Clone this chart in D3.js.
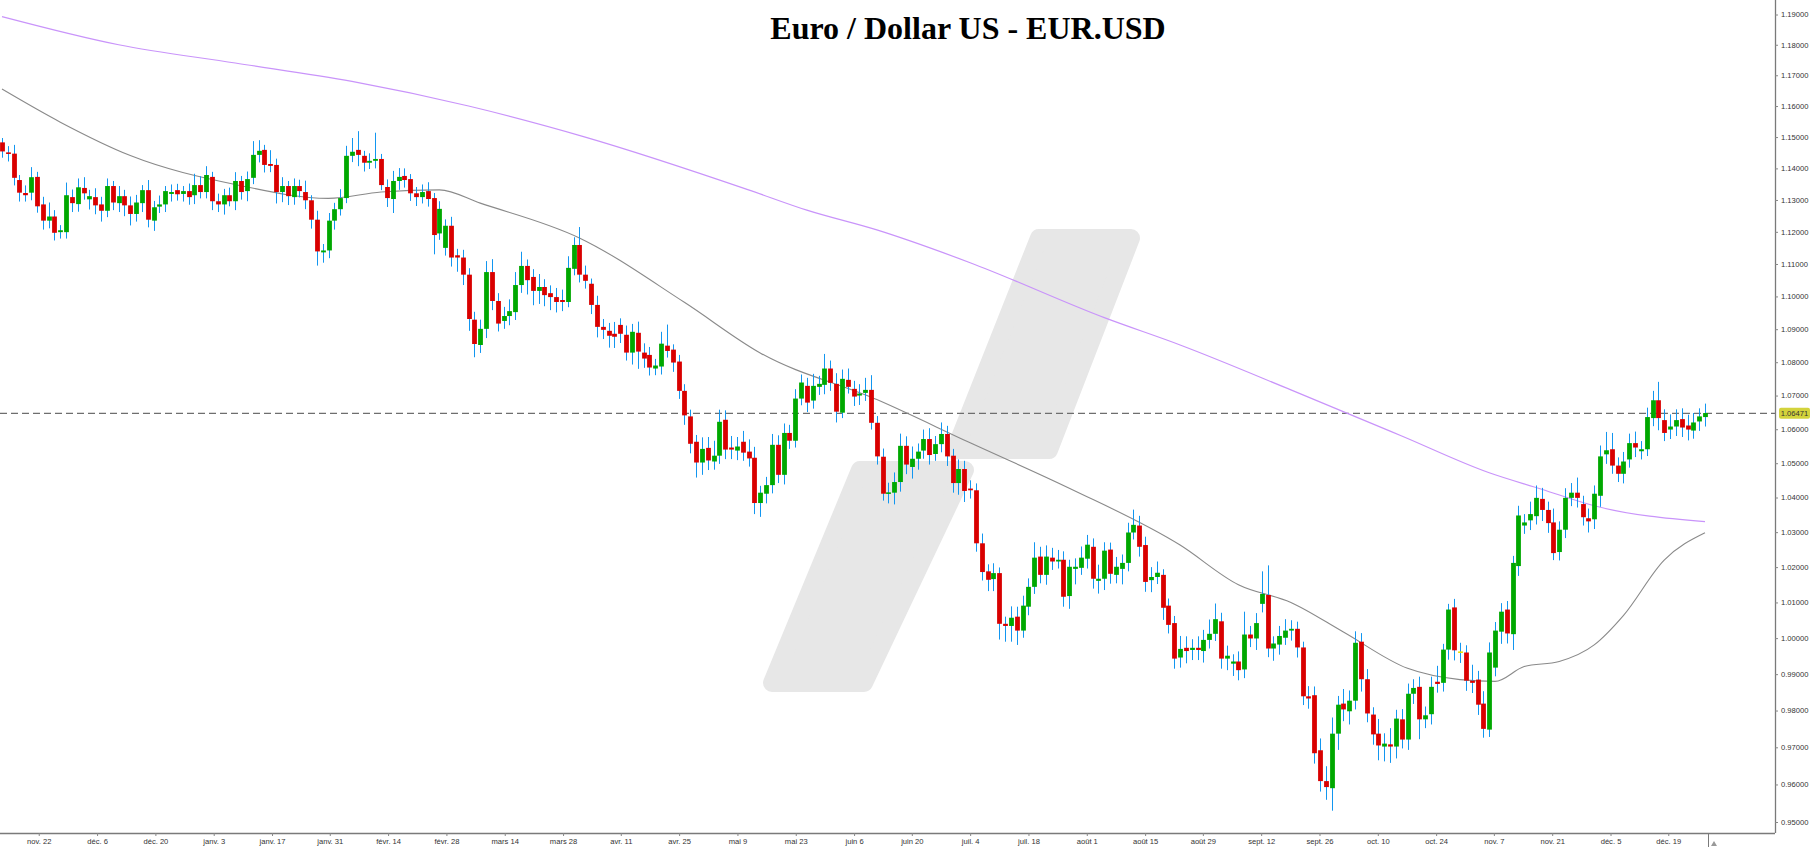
<!DOCTYPE html>
<html>
<head>
<meta charset="utf-8">
<script src="https://cdn.jsdelivr.net/npm/d3@7/dist/d3.min.js"></script>
<style>
  body { margin: 0; background: #fff; }
  svg { display: block; }
</style>
</head>
<body>
<svg id="chart" width="1811" height="847"></svg>
<script>
// daily candles, EUR/USD
var opens = [
1.1483,1.1451,1.1447,1.1363,1.1322,1.1323,1.1373,1.1286,1.1235,1.1248,
1.1199,1.1199,1.1309,1.1287,1.1338,1.1302,1.1309,1.1286,1.1266,1.1344,
1.1290,1.1312,1.1283,1.1256,1.1290,1.1331,1.1235,1.1279,1.1286,1.1319,
1.1331,1.1319,1.1328,1.1315,1.1347,1.1325,1.1373,1.1296,1.1286,1.1315,
1.1296,1.1360,1.1328,1.1370,1.1443,1.1459,1.1414,1.1411,1.1325,1.1344,
1.1309,1.1344,1.1325,1.1299,1.1238,1.1136,1.1142,1.1235,1.1271,1.1306,
1.1440,1.1459,1.1440,1.1418,1.1424,1.1430,1.1341,1.1303,1.1360,1.1376,
1.1366,1.1321,1.1309,1.1328,1.1306,1.1195,1.1150,1.1219,1.1127,1.1120,
1.1067,1.0929,1.0852,1.0901,1.1075,1.0986,1.0925,1.0940,1.0952,1.1035,
1.1094,1.1060,1.1017,1.1029,1.1010,1.0998,1.0989,1.0983,1.1085,1.1159,
1.1067,1.1039,1.0974,1.0907,1.0895,1.0886,1.0913,1.0883,1.0829,1.0889,
1.0829,1.0822,1.0781,1.0787,1.0850,1.0838,1.0802,1.0714,1.0638,1.0563,
1.0502,1.0545,1.0505,1.0522,1.0628,1.0546,1.0537,1.0563,1.0534,1.0516,
1.0384,1.0411,1.0436,1.0554,1.0466,1.0589,1.0566,1.0691,1.0729,1.0685,
1.0726,1.0732,1.0781,1.0735,1.0649,1.0747,1.0720,1.0700,1.0708,1.0717,
1.0619,1.0519,1.0411,1.0414,1.0445,1.0551,1.0489,1.0513,1.0537,1.0571,
1.0527,1.0556,1.0586,1.0522,1.0442,1.0483,1.0426,1.0421,1.0268,1.0188,
1.0166,1.0183,1.0040,1.0034,1.0060,1.0021,1.0088,1.0144,1.0230,1.0178,
1.0227,1.0216,1.0221,1.0118,1.0195,1.0198,1.0224,1.0258,1.0161,1.0167,
1.0250,1.0178,1.0195,1.0212,1.0299,1.0319,1.0263,1.0163,1.0172,1.0178,
1.0091,1.0042,0.9946,0.9973,0.9967,0.9973,0.9964,0.9995,1.0012,1.0047,
0.9943,0.9929,0.9935,0.9913,1.0010,0.9999,1.0096,1.0121,0.9971,0.9982,
1.0001,1.0021,1.0026,0.9974,0.9839,0.9842,0.9692,0.9609,0.9590,0.9737,
0.9819,0.9798,0.9827,0.9990,0.9886,0.9789,0.9737,0.9702,0.9708,0.9702,
0.9776,0.9721,0.9846,0.9865,0.9776,0.9790,0.9879,0.9876,0.9968,1.0086,
0.9963,0.9960,0.9882,0.9885,0.9819,0.9748,0.9918,1.0018,1.0080,1.0011,
1.0203,1.0319,1.0334,1.0346,1.0396,1.0364,1.0328,1.0243,1.0307,1.0399,
1.0414,1.0381,1.0340,1.0337,1.0405,1.0526,1.0541,1.0493,1.0469,1.0511,
1.0559,1.0535,1.0541,1.0633,1.0686,1.0627,1.0599,1.0608,1.0630,1.0611,
1.0596,1.0623,1.0636];
var closes = [
1.1454,1.1446,1.1370,1.1323,1.1315,1.1372,1.1280,1.1235,1.1248,1.1197,
1.1205,1.1315,1.1290,1.1340,1.1321,1.1312,1.1283,1.1266,1.1344,1.1292,
1.1312,1.1283,1.1256,1.1292,1.1331,1.1238,1.1277,1.1286,1.1328,1.1325,
1.1318,1.1328,1.1309,1.1347,1.1325,1.1379,1.1296,1.1286,1.1315,1.1296,
1.1360,1.1325,1.1366,1.1443,1.1456,1.1411,1.1408,1.1325,1.1344,1.1312,
1.1344,1.1328,1.1299,1.1238,1.1139,1.1142,1.1235,1.1271,1.1306,1.1440,
1.1453,1.1443,1.1418,1.1424,1.1430,1.1347,1.1306,1.1360,1.1373,1.1363,
1.1321,1.1309,1.1325,1.1303,1.1190,1.1272,1.1219,1.1120,1.1120,1.1067,
1.0931,1.0855,1.0901,1.1075,1.0986,1.0917,1.0940,1.0955,1.1035,1.1094,
1.1050,1.1017,1.1029,1.1004,1.0998,1.0983,1.0983,1.1088,1.1159,1.1067,
1.1048,1.0974,1.0907,1.0898,1.0880,1.0877,1.0886,1.0829,1.0892,1.0832,
1.0811,1.0784,1.0790,1.0856,1.0834,1.0799,1.0714,1.0641,1.0557,1.0502,
1.0542,1.0508,1.0522,1.0622,1.0540,1.0540,1.0549,1.0531,1.0514,1.0384,
1.0414,1.0436,1.0554,1.0466,1.0589,1.0566,1.0691,1.0739,1.0679,1.0729,
1.0735,1.0781,1.0738,1.0652,1.0750,1.0726,1.0697,1.0706,1.0717,1.0619,
1.0520,1.0411,1.0415,1.0445,1.0551,1.0496,1.0513,1.0534,1.0571,1.0524,
1.0556,1.0586,1.0520,1.0442,1.0483,1.0419,1.0421,1.0268,1.0186,1.0164,
1.0183,1.0040,1.0034,1.0057,1.0021,1.0091,1.0144,1.0227,1.0178,1.0230,
1.0216,1.0221,1.0116,1.0201,1.0201,1.0227,1.0264,1.0167,1.0167,1.0247,
1.0181,1.0201,1.0212,1.0299,1.0321,1.0258,1.0158,1.0172,1.0184,1.0085,
1.0037,0.9943,0.9970,0.9964,0.9973,0.9967,0.9995,1.0012,1.0053,0.9943,
0.9951,0.9935,0.9911,1.0010,0.9999,1.0042,1.0124,0.9971,0.9985,1.0006,
1.0021,1.0026,0.9974,0.9839,0.9833,0.9684,0.9609,0.9593,0.9737,0.9816,
0.9803,0.9827,0.9987,0.9886,0.9792,0.9735,0.9705,0.9710,0.9702,0.9778,
0.9721,0.9846,0.9862,0.9776,0.9787,0.9865,0.9873,0.9968,1.0080,0.9966,
0.9963,0.9882,0.9876,0.9816,0.9750,0.9960,1.0021,1.0074,1.0013,1.0212,
1.0348,1.0328,1.0352,1.0399,1.0364,1.0326,1.0240,1.0307,1.0399,1.0414,
1.0399,1.0343,1.0331,1.0411,1.0520,1.0538,1.0493,1.0469,1.0505,1.0559,
1.0546,1.0541,1.0636,1.0686,1.0633,1.0589,1.0608,1.0627,1.0605,1.0599,
1.0620,1.0638,1.0648];
// wick above the body / below the body, in pips
var wickUp = [
14,20,28,16,24,32,16,24,44,20, 16,40,24,28,34,20,28,24,24,16,
32,20,28,24,16,32,20,28,16,24, 20,16,24,36,28,28,16,24,20,24,
28,16,24,44,34,16,44,20,28,16, 24,20,36,16,28,20,24,20,28,32,
44,60,16,24,84,16,24,32,28,24, 16,20,24,28,16,24,20,28,20,24,
20,24,28,34,40,24,28,36,40,44, 20,24,40,24,24,28,32,36,24,56,
28,16,28,24,24,36,20,28,24,34, 28,24,20,36,64,16,20,20,20,20,
34,32,44,36,28,34,28,32,36,32, 20,24,32,28,28,24,28,24,24,36,
24,44,24,32,28,34,24,28,36,44, 20,24,28,28,36,28,36,24,28,32,
24,34,24,20,28,24,24,20,28,20, 28,16,20,32,28,28,24,44,28,32,
28,28,24,20,24,32,28,24,40,24, 20,28,24,28,44,28,24,28,32,16,
20,20,36,32,24,32,28,40,44,24, 28,20,28,64,24,28,64,84,20,28,
32,24,20,16,28,24,32,40,44,24, 40,28,32,24,28,20,40,28,44,24,
28,28,24,28,24,28,44,16,16,24, 24,20,44,24,34,28,24,24,24,20,
28,24,36,36,32,24,40,24,28,28, 44,24,28,24,32,54,48,24,28,28,
34,24,28,28,55,32,36,32,32,32, 28,24,28];
var wickDown = [
20,24,24,28,20,24,20,28,24,24, 20,20,28,24,20,32,28,34,20,24,
28,34,36,24,28,24,32,20,24,24, 20,24,24,28,20,20,28,24,32,16,
28,24,32,20,24,24,20,36,32,28, 24,20,28,28,44,32,24,28,20,16,
20,36,28,20,24,16,28,44,28,24, 24,28,20,24,60,20,24,28,44,32,
36,40,24,28,28,24,24,28,24,24, 44,44,40,34,40,32,28,16,20,24,
24,28,32,28,36,34,28,24,36,52, 28,24,20,24,20,28,24,28,28,44,
36,28,24,24,28,28,28,24,24,32, 40,28,24,24,28,24,20,20,28,24,
24,28,24,32,16,20,28,28,24,20, 24,20,28,34,28,28,34,32,24,28,
20,24,28,28,34,32,24,24,24,32, 34,44,44,44,40,20,24,20,24,28,
24,20,28,36,44,20,28,28,36,32, 28,24,44,24,20,28,28,34,20,34,
24,28,28,34,28,28,32,24,20,28, 32,34,28,24,24,32,24,24,34,28,
20,28,28,24,28,28,28,34,60,44, 32,36,24,34,24,28,40,40,44,32,
24,28,28,54,24,28,24,24,28,28, 32,28,28,28,24,20,24,34,28,44,
28,24,28,24,32,28,20,24,24,24, 28,24,32,28,32,28,24,24,28,24,
28,24,20,24,36,24,28,28,28,32, 24,28,28];

// moving averages, sampled at candle indices
var maShortIdx = [0,10,22,40,56,65,75,82,99,117,130,150,166,183,202,212,221,230,241,250,256,261,267,273,278,285,292];
var maShort    = [1.1655,1.1548,1.1441,1.1349,1.1305,1.1325,1.1332,1.1290,1.1181,1.0982,1.0828,1.0688,1.0560,1.0427,1.0263,1.0150,1.0100,1.0017,0.9916,0.9885,0.9880,0.9921,0.9935,0.9981,1.0063,1.0220,1.0298];
var maLongIdx = [0,20,40,60,80,100,128,138,150,166,189,202,221,240,255,264,273,292];
var maLong    = [1.1893,1.1800,1.1740,1.1680,1.1600,1.1500,1.1332,1.1268,1.1206,1.1104,1.0935,1.0852,1.0717,1.0580,1.0472,1.0424,1.0376,1.0330];

var lastPrice = 1.06471;
var priceTicks = d3.range(95, 120).map(function(d){ return d / 100; });
var dateLabels = ["nov. 22","déc. 6","déc. 20","janv. 3","janv. 17","janv. 31","févr. 14","févr. 28","mars 14","mars 28","avr. 11","avr. 25","mai 9","mai 23","juin 6","juin 20","juil. 4","juil. 18","août 1","août 15","août 29","sept. 12","sept. 26","oct. 10","oct. 24","nov. 7","nov. 21","déc. 5","déc. 19"];
var dateIdx = [6.3,16.3,26.3,36.3,46.3,56.2,66.2,76.2,86.2,96.2,106.1,116.1,126.1,136.1,146.1,156,166,176,186,196,205.9,215.9,225.9,235.9,245.9,255.8,265.8,275.8,285.7];

var svg = d3.select("#chart");
var axisX = 1775, axisY = 833;

var x = d3.scaleLinear().domain([0, 292]).range([2, 1705]);
var y = d3.scaleLog().domain([0.95, 1.19]).range([822, 14.5]);

// watermark logo
var logo = svg.append("g").attr("fill", "#e7e7e7").attr("stroke", "#e7e7e7")
  .attr("stroke-width", 18).attr("stroke-linejoin", "round");
logo.append("polygon").attr("points", "1039,238 1131,238 1049,450 955,450");
logo.append("polygon").attr("points", "860,470 965,470 864,683 772,683");

// dashed last-price line
svg.append("line")
  .attr("x1", 0).attr("x2", axisX)
  .attr("y1", y(lastPrice)).attr("y2", y(lastPrice))
  .attr("stroke", "#6e6e6e").attr("stroke-width", 1.2).attr("stroke-dasharray", "7,4");

// moving averages
var lineShort = d3.line().x(function(d, i){ return x(maShortIdx[i]); }).y(function(d){ return y(d); }).curve(d3.curveMonotoneX);
var lineLong  = d3.line().x(function(d, i){ return x(maLongIdx[i]); }).y(function(d){ return y(d); }).curve(d3.curveMonotoneX);
svg.append("path").attr("d", lineLong(maLong)).attr("fill", "none").attr("stroke", "#c994fa").attr("stroke-width", 1.2);
svg.append("path").attr("d", lineShort(maShort)).attr("fill", "none").attr("stroke", "#8a8a8a").attr("stroke-width", 1.1);

// candles
var candles = svg.append("g");
opens.forEach(function(o, i){
  var c = closes[i];
  var top = Math.max(o, c), bot = Math.min(o, c);
  var hi = top + wickUp[i] / 10000, lo = bot - wickDown[i] / 10000;
  var cx = Math.round(x(i)) + 0.5;
  candles.append("line")
    .attr("x1", cx).attr("x2", cx).attr("y1", y(hi)).attr("y2", y(lo))
    .attr("stroke", "#1296f0").attr("stroke-width", 1);
  var col = c > o ? "#00a800" : (c < o ? "#d90000" : "#e8e000");
  var h = Math.max(y(bot) - y(top), 1.6);
  candles.append("rect")
    .attr("x", cx - 2.4).attr("width", 4.8)
    .attr("y", y(top)).attr("height", h)
    .attr("fill", col);
});

// title
svg.append("text").attr("x", 968).attr("y", 39).attr("text-anchor", "middle")
  .attr("font-family", "'Liberation Serif', 'Times New Roman', serif")
  .attr("font-weight", "bold").attr("font-size", 32).attr("fill", "#000")
  .text("Euro / Dollar US - EUR.USD");

// price axis
var yAxis = d3.axisRight(y).tickValues(priceTicks).tickSize(3).tickPadding(3)
  .tickFormat(d3.format(".5f"));
var gy = svg.append("g").attr("transform", "translate(" + axisX + ",0)").call(yAxis);
gy.select(".domain").attr("d", "M0.5,0V" + axisY).attr("stroke", "#7a7a7a").attr("stroke-width", 1.3);
gy.selectAll(".tick line").attr("stroke", "#888");
gy.selectAll(".tick text").attr("font-family", "'Liberation Sans', Arial, sans-serif")
  .attr("font-size", 7.6).attr("fill", "#333");

// last price tag
var tagY = y(lastPrice);
svg.append("rect").attr("x", 1779).attr("y", tagY - 5.5).attr("width", 31).attr("height", 11)
  .attr("rx", 2).attr("fill", "#d3d33c");
svg.append("text").attr("x", 1794.5).attr("y", tagY + 3).attr("text-anchor", "middle")
  .attr("font-family", "'Liberation Sans', Arial, sans-serif").attr("font-size", 7.6).attr("fill", "#333")
  .text(d3.format(".5f")(lastPrice));

// date axis
var xAxis = d3.axisBottom(x).tickValues(dateIdx).tickSize(3).tickPadding(3)
  .tickFormat(function(d, i){ return dateLabels[i]; });
var gx = svg.append("g").attr("transform", "translate(0," + axisY + ")").call(xAxis);
gx.select(".domain").attr("d", "M0,0.5H" + axisX).attr("stroke", "#7a7a7a").attr("stroke-width", 1.3);
gx.selectAll(".tick line").attr("stroke", "#888");
gx.selectAll(".tick text").attr("font-family", "'Liberation Sans', Arial, sans-serif")
  .attr("font-size", 7.6).attr("fill", "#333");

// small corner marker under the last candle
svg.append("line").attr("x1", 1708.5).attr("x2", 1708.5).attr("y1", axisY).attr("y2", 847)
  .attr("stroke", "#7a7a7a").attr("stroke-width", 1);
svg.append("path").attr("d", "M1711,846 L1714,841 L1717,846 Z").attr("fill", "#999");
</script>
</body>
</html>
